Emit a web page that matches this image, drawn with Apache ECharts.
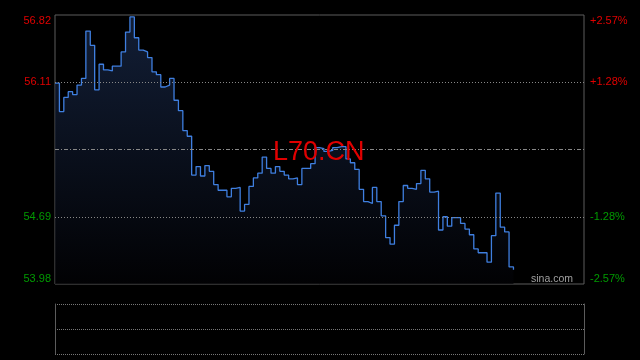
<!DOCTYPE html>
<html><head><meta charset="utf-8">
<script src="https://cdn.jsdelivr.net/npm/echarts@6/dist/echarts.min.js"></script>
<style>html,body{margin:0;padding:0;background:#000;}#c{width:640px;height:360px;}</style>
</head><body><div id="c"></div>
<script>
// intraday price, 2-minute steps
const prices = [
  56.10, 55.80, 55.95, 56.01, 55.98, 56.08, 56.15, 56.65, 56.50, 56.03,
  56.30, 56.24, 56.23, 56.28, 56.28, 56.43, 56.64, 56.80, 56.58, 56.45,
  56.43, 56.37, 56.22, 56.19, 56.06, 56.08, 56.15, 55.92, 55.81, 55.60,
  55.54, 55.13, 55.22, 55.12, 55.23, 55.17, 55.03, 54.97, 54.97, 54.90,
  54.99, 55.00, 54.75, 54.82, 55.01, 55.10, 55.15, 55.32, 55.20, 55.15,
  55.22, 55.17, 55.13, 55.09, 55.10, 55.03, 55.20, 55.20, 55.25, 55.42,
  55.41, 55.38, 55.39, 55.42, 55.43, 55.43, 55.30, 55.26, 55.19, 54.98,
  54.85, 54.83, 55.00, 54.85, 54.70, 54.47, 54.40, 54.60, 54.85, 55.02,
  54.99, 54.98, 55.04, 55.18, 55.09, 54.95, 54.96, 54.55, 54.69, 54.59,
  54.68, 54.68, 54.62, 54.56, 54.50, 54.35, 54.31, 54.31, 54.21, 54.49,
  54.94, 54.58, 54.53, 54.16, 54.13
];
const priceLabels = ['53.98', '54.69', '', '56.11', '56.82'];
const pctLabels = ['-2.57%', '-1.28%', '', '+1.28%', '+2.57%'];
const priceMin = 53.98, priceMax = 56.82;
const gridLevels = [56.11, 55.40, 54.69];
const title = 'L70.CN';
const brand = 'sina.com';

// time slots 09:30-11:30, 13:00-15:00 every 2 minutes (121 slots)
const times = [];
function pushRange(h0, m0, h1, m1, skipFirst) {
  let t = h0 * 60 + m0, end = h1 * 60 + m1;
  if (skipFirst) t += 2;
  for (; t <= end; t += 2) {
    const h = Math.floor(t / 60), m = t % 60;
    times.push((h < 10 ? '0' : '') + h + ':' + (m < 10 ? '0' : '') + m);
  }
}
pushRange(9, 30, 11, 30, false);
pushRange(13, 0, 15, 0, true);

const chart = echarts.init(document.getElementById('c'), null, {renderer: 'canvas'});
const font = 'Arial, "Liberation Sans", sans-serif';
function labelFmt(arr) {
  return function (v) {
    const s = arr[Math.round(v)];
    if (!s) return '';
    return (Math.round(v) >= 3 ? '{r|' : '{g|') + s + '}';
  };
}
const richCols = {
  r: {color: '#e00000', fontSize: 11, fontFamily: font},
  g: {color: '#009a00', fontSize: 11, fontFamily: font}
};
chart.setOption({
  backgroundColor: '#000',
  animation: false,
  grid: [
    {left: 55, top: 15, width: 529, height: 269, show: true, borderColor: '#5c5c5c', borderWidth: 1, backgroundColor: 'transparent'},
    {left: 55, top: 304, width: 529, height: 50, show: false}
  ],
  xAxis: [
    {type: 'category', gridIndex: 0, data: times, boundaryGap: false, show: false},
    {type: 'category', gridIndex: 1, data: times, boundaryGap: false, show: false}
  ],
  yAxis: [
    {type: 'value', gridIndex: 0, min: priceMin, max: priceMax, show: false, splitLine: {show: false}},
    {type: 'value', gridIndex: 0, position: 'left', min: 0, max: 4, interval: 1,
      axisLine: {show: false}, axisTick: {show: false}, splitLine: {show: false},
      axisLabel: {margin: 4, formatter: labelFmt(priceLabels), rich: richCols,
        verticalAlignMinLabel: 'bottom', verticalAlignMaxLabel: 'top'}},
    {type: 'value', gridIndex: 0, position: 'right', min: 0, max: 4, interval: 1,
      axisLine: {show: false}, axisTick: {show: false}, splitLine: {show: false},
      axisLabel: {margin: 6, formatter: labelFmt(pctLabels), rich: richCols,
        verticalAlignMinLabel: 'bottom', verticalAlignMaxLabel: 'top'}},
    {type: 'value', gridIndex: 1, position: 'left', min: 0, max: 2, interval: 1,
      axisLine: {show: true, lineStyle: {color: '#5c5c5c', width: 1}}, axisTick: {show: false},
      axisLabel: {show: false},
      splitLine: {show: true, showMinLine: true, showMaxLine: true, lineStyle: {color: '#777', type: [1, 1], width: 1}}},
    {type: 'value', gridIndex: 1, position: 'right', min: 0, max: 2, interval: 1,
      axisLine: {show: true, lineStyle: {color: '#5c5c5c', width: 1}}, axisTick: {show: false},
      axisLabel: {show: false}, splitLine: {show: false}}
  ],
  series: [{
    type: 'line',
    xAxisIndex: 0, yAxisIndex: 0,
    data: prices,
    step: 'end',
    symbol: 'none',
    lineStyle: {color: '#3f7fe0', width: 1.3},
    areaStyle: {color: new echarts.graphic.LinearGradient(0, 0, 0, 1, [
      {offset: 0, color: '#1a2b4d'},
      {offset: 1, color: '#020205'}
    ])},
    markLine: {
      silent: true, symbol: 'none', label: {show: false},
      data: [
        {yAxis: gridLevels[0], lineStyle: {color: '#888', type: [1, 2], width: 1}},
        {yAxis: gridLevels[1], lineStyle: {color: '#888', type: [4, 2, 1, 2], width: 1}},
        {yAxis: gridLevels[2], lineStyle: {color: '#888', type: [1, 2], width: 1}}
      ]
    }
  }],
  graphic: [
    {type: 'text', left: 273, top: 139, z: 100,
      style: {text: title, fill: '#e00000', fontSize: 27, fontFamily: font}},
    {type: 'text', right: 67, top: 274, z: 100,
      style: {text: brand, fill: '#a0a0a0', fontSize: 10.5, fontFamily: font}}
  ]
});
</script>
</body></html>
